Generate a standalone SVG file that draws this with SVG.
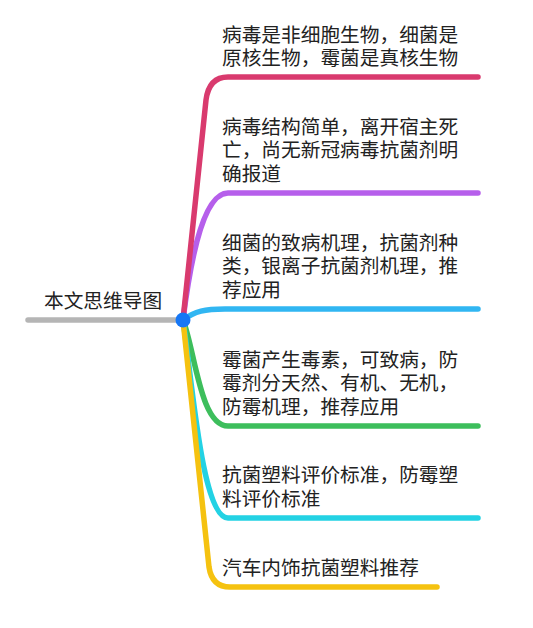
<svg xmlns="http://www.w3.org/2000/svg" width="533" height="628" viewBox="0 0 533 628">
<style>
  .t { font-family: "Noto Sans CJK SC", "Noto Sans", sans-serif; font-size: 19.7px; fill: #222222; }
  .b { fill: none; stroke-width: 5.5; stroke-linecap: round; stroke-linejoin: round; }
</style>
<rect width="533" height="628" fill="#ffffff"/>
<g id="connectors">
  <path class="b" stroke="#b5b5b5" d="M28,320 L183,320"/>
  <path class="b" stroke="#b65feb" d="M183,320 C188,280 200,193 228,193 L478,193"/>
  <path class="b" stroke="#d93a6e" d="M183,320 L206,100 Q209,77 228,77 L478,77"/>
  <path class="b" stroke="#31b6f2" d="M183,320 C195,311 205,309 225,309 L478,309"/>
  <path class="b" stroke="#3dbe5c" d="M183,320 C195,350 200,426 228,426 L478,426"/>
  <path class="b" stroke="#23d2e4" d="M183,320 C192,380 202,518 228,518 L478,518"/>
  <path class="b" stroke="#f5c210" d="M183,320 L209,567 Q212,587 230,587 L437,587"/>
</g>
<g id="root">
  <text class="t" x="44" y="307.5">本文思维导图</text>
  <circle cx="183" cy="320" r="7.5" fill="#1677f5"/>
</g>
<g id="n1">
  <text class="t"><tspan x="222" y="41.5">病毒是非细胞生物，细菌是</tspan><tspan x="222" y="64.5">原核生物，霉菌是真核生物</tspan></text>
</g>
<g id="n2">
  <text class="t"><tspan x="222" y="134">病毒结构简单，离开宿主死</tspan><tspan x="222" y="157.2">亡，尚无新冠病毒抗菌剂明</tspan><tspan x="222" y="180.5">确报道</tspan></text>
</g>
<g id="n3">
  <text class="t"><tspan x="222" y="250">细菌的致病机理，抗菌剂种</tspan><tspan x="222" y="273.2">类，银离子抗菌剂机理，推</tspan><tspan x="222" y="296.5">荐应用</tspan></text>
</g>
<g id="n4">
  <text class="t"><tspan x="222" y="367">霉菌产生毒素，可致病，防</tspan><tspan x="222" y="390.2">霉剂分天然、有机、无机，</tspan><tspan x="222" y="413.5">防霉机理，推荐应用</tspan></text>
</g>
<g id="n5">
  <text class="t"><tspan x="222" y="482.2">抗菌塑料评价标准，防霉塑</tspan><tspan x="222" y="505.5">料评价标准</tspan></text>
</g>
<g id="n6">
  <text class="t" x="222" y="574.5">汽车内饰抗菌塑料推荐</text>
</g>
</svg>
